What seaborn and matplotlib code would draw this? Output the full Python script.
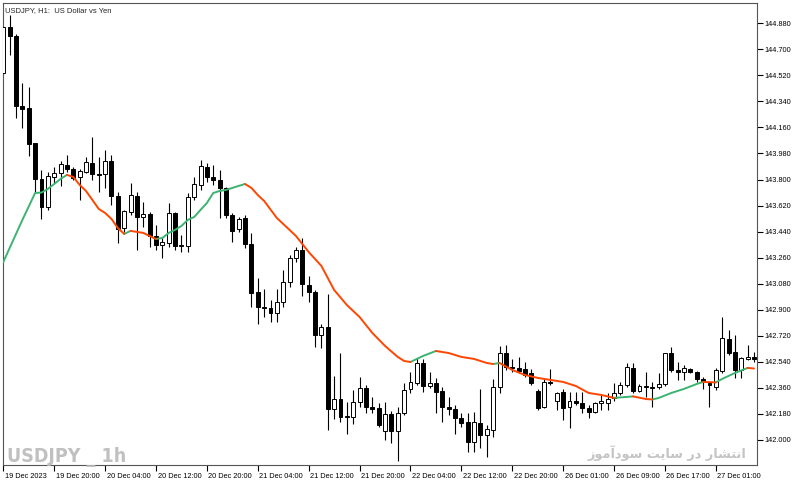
"""USDJPY H1 candles with a two-colour moving average, drawn with seaborn."""
import matplotlib.pyplot as plt
import matplotlib.transforms as mtransforms
from matplotlib import font_manager
import numpy as np
import pandas as pd
import seaborn as sns

# hourly candles, 19 Dec 12:00 .. 27 Dec 2023
opens = [144.536, 144.854, 144.792, 144.308, 144.295, 144.053, 143.804, 143.610, 143.818, 143.845,
         143.901, 143.873, 143.818, 143.852, 143.914, 143.839, 143.839, 143.928, 143.686, 143.465,
         143.576, 143.686, 143.541, 143.562, 143.410, 143.348, 143.362, 143.569, 143.341, 143.341,
         143.680, 143.763, 143.886, 143.818, 143.797, 143.742, 143.555, 143.458, 143.534, 143.355,
         143.023, 142.919, 142.912, 142.878, 142.954, 143.092, 143.258, 143.313, 143.071, 143.023,
         142.726, 142.781, 142.214, 142.283, 142.159, 142.159, 142.263, 142.360, 142.228, 142.221,
         142.062, 142.180, 142.062, 142.187, 142.353, 142.394, 142.532, 142.373, 142.394, 142.339,
         142.228, 142.214, 142.152, 142.125, 141.986, 142.118, 142.035, 142.069, 142.367, 142.601,
         142.505, 142.498, 142.491, 142.463, 142.339, 142.228, 142.401, 142.270, 142.332, 142.228,
         142.270, 142.256, 142.221, 142.194, 142.256, 142.256, 142.290, 142.325, 142.380, 142.498,
         142.339, 142.373, 142.367, 142.367, 142.387, 142.601, 142.484, 142.470, 142.491, 142.470,
         142.422, 142.394, 142.367, 142.477, 142.698, 142.608, 142.484, 142.560, 142.574]
highs = [144.868, 144.937, 144.806, 144.467, 144.440, 144.053, 143.866, 143.852, 143.886, 143.928,
         143.970, 143.886, 143.873, 143.956, 144.094, 143.956, 144.004, 143.970, 143.714, 143.590,
         143.776, 143.714, 143.645, 143.576, 143.486, 143.403, 143.638, 143.576, 143.417, 143.707,
         143.818, 143.935, 143.914, 143.901, 143.866, 143.749, 143.569, 143.541, 143.555, 143.431,
         143.120, 143.044, 142.968, 143.044, 143.175, 143.279, 143.334, 143.396, 143.134, 143.037,
         142.802, 143.009, 142.442, 142.601, 142.263, 142.346, 142.436, 142.380, 142.297, 142.256,
         142.263, 142.201, 142.228, 142.394, 142.470, 142.567, 142.560, 142.470, 142.429, 142.367,
         142.297, 142.242, 142.187, 142.187, 142.194, 142.353, 142.104, 142.422, 142.650, 142.657,
         142.560, 142.574, 142.539, 142.491, 142.353, 142.422, 142.491, 142.332, 142.353, 142.332,
         142.332, 142.332, 142.242, 142.263, 142.311, 142.325, 142.394, 142.401, 142.532, 142.532,
         142.387, 142.470, 142.401, 142.463, 142.601, 142.643, 142.539, 142.519, 142.498, 142.477,
         142.436, 142.394, 142.498, 142.850, 142.760, 142.726, 142.574, 142.657, 142.608]
lows = [144.523, 144.661, 144.226, 144.156, 143.963, 143.714, 143.528, 143.590, 143.776, 143.756,
        143.852, 143.797, 143.659, 143.845, 143.797, 143.714, 143.742, 143.624, 143.362, 143.438,
        143.555, 143.313, 143.472, 143.334, 143.313, 143.258, 143.334, 143.313, 143.299, 143.299,
        143.659, 143.728, 143.783, 143.763, 143.534, 143.534, 143.369, 143.438, 143.327, 142.919,
        142.802, 142.850, 142.816, 142.816, 142.919, 143.058, 143.230, 142.995, 142.954, 142.643,
        142.636, 142.069, 142.145, 142.125, 142.042, 142.111, 142.228, 142.187, 142.187, 142.090,
        142.000, 141.979, 141.855, 142.173, 142.325, 142.380, 142.332, 142.360, 142.187, 142.125,
        142.173, 142.042, 142.090, 141.917, 141.917, 141.945, 141.883, 142.021, 142.325, 142.484,
        142.470, 142.463, 142.436, 142.380, 142.208, 142.221, 142.380, 142.208, 142.138, 142.083,
        142.242, 142.187, 142.152, 142.187, 142.208, 142.208, 142.270, 142.311, 142.367, 142.325,
        142.332, 142.297, 142.228, 142.353, 142.373, 142.470, 142.415, 142.415, 142.463, 142.401,
        142.353, 142.228, 142.346, 142.463, 142.588, 142.429, 142.429, 142.553, 142.539]
closes = [144.854, 144.792, 144.308, 144.288, 144.046, 143.804, 143.610, 143.825, 143.845, 143.908,
          143.873, 143.811, 143.859, 143.921, 143.839, 143.832, 143.928, 143.686, 143.458, 143.583,
          143.693, 143.541, 143.562, 143.410, 143.348, 143.369, 143.569, 143.341, 143.348, 143.680,
          143.769, 143.894, 143.818, 143.797, 143.742, 143.555, 143.445, 143.528, 143.355, 143.016,
          142.919, 142.912, 142.878, 142.954, 143.092, 143.258, 143.313, 143.078, 143.023, 142.726,
          142.781, 142.214, 142.283, 142.159, 142.166, 142.263, 142.360, 142.228, 142.214, 142.104,
          142.180, 142.062, 142.187, 142.346, 142.401, 142.532, 142.373, 142.394, 142.332, 142.228,
          142.214, 142.152, 142.118, 141.986, 142.125, 142.035, 142.076, 142.367, 142.601, 142.505,
          142.498, 142.477, 142.449, 142.394, 142.221, 142.401, 142.394, 142.325, 142.221, 142.270,
          142.256, 142.221, 142.194, 142.256, 142.270, 142.283, 142.325, 142.380, 142.505, 142.339,
          142.373, 142.367, 142.360, 142.387, 142.601, 142.484, 142.470, 142.498, 142.470, 142.422,
          142.401, 142.380, 142.484, 142.705, 142.601, 142.484, 142.567, 142.574, 142.560]

# moving average (bar number, price)
ma_bars = [0, 1, 3, 5, 6, 7, 8, 9, 10, 11, 12, 13, 14, 15, 16, 17, 18, 19, 20, 22,
           24, 25, 26, 27, 28, 29, 30, 31, 32, 33, 34, 35, 36, 37, 38, 39, 40, 41, 43, 44,
           46, 48, 50, 52, 54, 56, 58, 60, 62, 63, 64, 66, 68, 70, 72, 74, 76, 77, 78, 80,
           82, 84, 86, 88, 90, 92, 94, 96, 97, 99, 101, 102, 103, 105, 107, 109, 110, 112, 113, 115,
           117, 118]
ma_values = [143.230, 143.327, 143.521, 143.707, 143.710, 143.735, 143.769, 143.804, 143.832, 143.818,
             143.763, 143.721, 143.659, 143.597, 143.569, 143.528, 143.465, 143.424, 143.445, 143.431,
             143.389, 143.396, 143.431, 143.452, 143.479, 143.521, 143.541, 143.590, 143.638, 143.707,
             143.721, 143.728, 143.742, 143.756, 143.769, 143.742, 143.693, 143.652, 143.534, 143.493,
             143.410, 143.299, 143.203, 143.037, 142.933, 142.850, 142.740, 142.650, 142.574, 142.546,
             142.539, 142.581, 142.615, 142.601, 142.574, 142.560, 142.532, 142.525, 142.532, 142.484,
             142.449, 142.429, 142.415, 142.401, 142.373, 142.325, 142.311, 142.291, 142.294, 142.301,
             142.283, 142.280, 142.290, 142.325, 142.353, 142.387, 142.401, 142.398, 142.422, 142.463,
             142.498, 142.494]

label_bars = [0, 8, 16, 24, 32, 40, 48, 56, 64, 72, 80, 88, 96, 104, 112]
time_labels = ['19 Dec 2023', '19 Dec 20:00', '20 Dec 04:00', '20 Dec 12:00', '20 Dec 20:00',
               '21 Dec 04:00', '21 Dec 12:00', '21 Dec 20:00', '22 Dec 04:00', '22 Dec 12:00',
               '22 Dec 20:00', '26 Dec 01:00', '26 Dec 09:00', '26 Dec 17:00', '27 Dec 01:00']
price_ticks = [142.000, 142.180, 142.360, 142.540, 142.720, 142.900, 143.080, 143.260, 143.440,
               143.620, 143.800, 143.980, 144.160, 144.340, 144.520, 144.700, 144.880]

symbol_title = 'USDJPY, H1:  US Dollar vs Yen'
watermark_left = 'USDJPY _ 1h'
watermark_right = 'انتشار در سایت سودآموز'

# Arabic presentation forms (isolated, final, initial, medial) so the
# Persian watermark is joined and right-to-left without a shaping engine
FORMS = {
    'ا': ('\uFE8D', '\uFE8E', None, None),
    'آ': ('\uFE81', '\uFE82', None, None),
    'ن': ('\uFEE5', '\uFEE6', '\uFEE7', '\uFEE8'),
    'ت': ('\uFE95', '\uFE96', '\uFE97', '\uFE98'),
    'ش': ('\uFEB5', '\uFEB6', '\uFEB7', '\uFEB8'),
    'ر': ('\uFEAD', '\uFEAE', None, None),
    'د': ('\uFEA9', '\uFEAA', None, None),
    'س': ('\uFEB1', '\uFEB2', '\uFEB3', '\uFEB4'),
    'ی': ('\uFBFC', '\uFBFD', '\uFBFE', '\uFBFF'),
    'و': ('\uFEED', '\uFEEE', None, None),
    'م': ('\uFEE1', '\uFEE2', '\uFEE3', '\uFEE4'),
    'ز': ('\uFEAF', '\uFEB0', None, None),
}


def shape_rtl(text):
    out = []
    for k, ch in enumerate(text):
        if ch not in FORMS:
            out.append(ch)
            continue
        prev = text[k - 1] if k > 0 else ''
        nxt = text[k + 1] if k + 1 < len(text) else ''
        join_prev = prev in FORMS and FORMS[prev][2] is not None
        join_next = nxt in FORMS and FORMS[ch][2] is not None
        iso, fin, ini, med = FORMS[ch]
        if join_prev and join_next:
            out.append(med)
        elif join_prev:
            out.append(fin)
        elif join_next:
            out.append(ini)
        else:
            out.append(iso)
    return ''.join(reversed(out))


# pick a narrow bold face for the big watermark if one is installed
narrow_font = None
installed = {(f.name, f.stretch) for f in font_manager.fontManager.ttflist}
for name, stretch in [('Liberation Sans Narrow', None), ('DejaVu Sans', 'condensed'),
                      ('Roboto Condensed', None), ('Open Sans Condensed', None)]:
    if any(n == name and (stretch is None or s == stretch) for n, s in installed):
        narrow_font = (name, stretch or 'normal')
        break

sns.set_style('white')
plt.rcParams['font.family'] = ['Liberation Sans', 'DejaVu Sans']

o = np.array(opens)
h = np.array(highs)
l = np.array(lows)
c = np.array(closes)
bars = np.arange(len(o))
up = c >= o

fig = plt.figure(figsize=(8, 4.83), dpi=100)
ax = fig.add_axes([3 / 800, 18 / 483, 754 / 800, 462 / 483])

# wicks, then bodies: black for falling bars, white for rising bars
ax.vlines(bars, l, h, color='black', linewidth=0.8, zorder=2)
ax.bar(bars, np.abs(c - o), bottom=np.minimum(o, c), width=0.62,
       color=np.where(up, 'white', 'black'), edgecolor='black',
       linewidth=0.7, zorder=3)

# moving average: split into runs, green while rising, orange while falling
rows = []
run = 0
prev_trend = None
for k in range(len(ma_bars) - 1):
    trend = 'up' if ma_values[k + 1] >= ma_values[k] else 'down'
    if trend != prev_trend:
        run += 1
        rows.append({'bar': ma_bars[k], 'price': ma_values[k], 'trend': trend, 'run': run})
    rows.append({'bar': ma_bars[k + 1], 'price': ma_values[k + 1], 'trend': trend, 'run': run})
    prev_trend = trend
ma = pd.DataFrame(rows)
sns.lineplot(data=ma, x='bar', y='price', hue='trend', units='run', estimator=None,
             palette={'up': '#3cb371', 'down': '#ff4500'}, linewidth=1.4,
             legend=False, ax=ax, zorder=4)

ax.set_xlim(-0.05, 118.47)
ax.set_ylim(141.827, 145.020)
ax.set(xlabel='', ylabel='')

ax.yaxis.tick_right()
ax.set_yticks(price_ticks)
ax.set_yticklabels([f'{p:.3f}' for p in price_ticks])
ax.set_xticks(label_bars)
ax.set_xticklabels(time_labels)
ax.tick_params(axis='both', direction='out', length=4, width=0.8,
               labelsize=5.3, colors='black', pad=1.5)
ax.tick_params(axis='y', left=False, right=True)
ax.tick_params(axis='x', bottom=True)
shift = mtransforms.ScaledTranslation(1.5 / 100, 0, fig.dpi_scale_trans)
for lab in ax.get_xticklabels():
    lab.set_horizontalalignment('left')
    lab.set_transform(lab.get_transform() + shift)

for side in ['left', 'right', 'top', 'bottom']:
    ax.spines[side].set_color('#555555')
    ax.spines[side].set_linewidth(0.8)

ax.text(0.003, 0.992, symbol_title, transform=ax.transAxes,
        fontsize=5.5, va='top', ha='left')

if narrow_font:
    fig.text(7 / 800, 21 / 483, watermark_left, fontsize=14, fontweight='bold',
             color='#c0c0c0', ha='left', va='baseline',
             family=[narrow_font[0]], fontstretch=narrow_font[1])
else:
    fig.text(7 / 800, 21 / 483, watermark_left, fontsize=12, fontweight='bold',
             color='#c0c0c0', ha='left', va='baseline')
fig.text(746 / 800, 25 / 483, shape_rtl(watermark_right), fontsize=9.3,
         fontweight='bold', color='#c4c4c4', ha='right', va='baseline',
         family=['DejaVu Sans'])

fig.savefig('out.png', dpi=100)
